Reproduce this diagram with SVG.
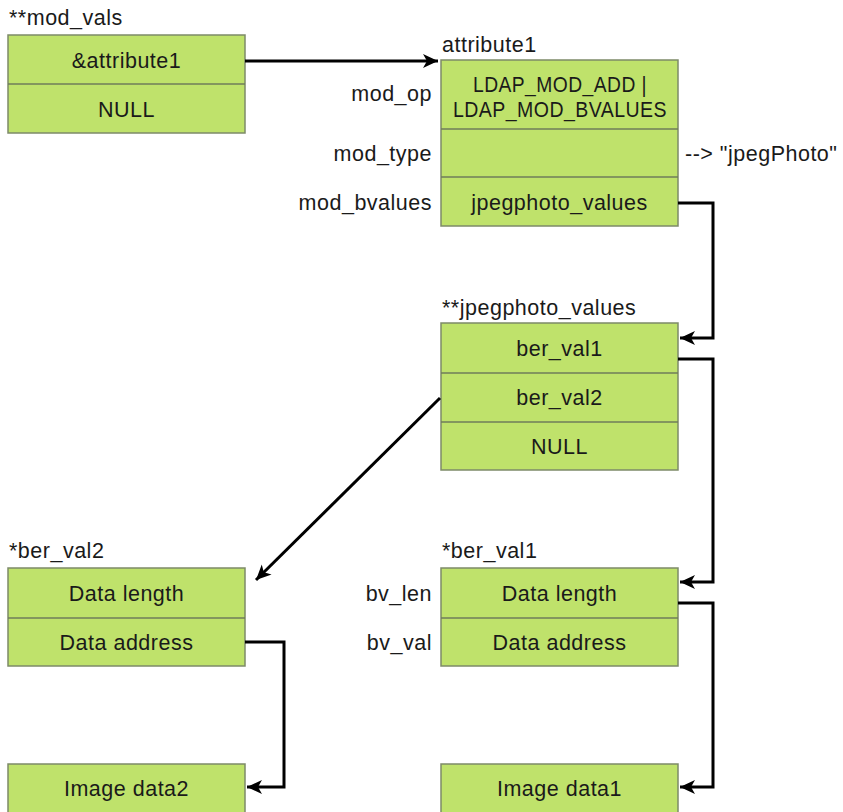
<svg xmlns="http://www.w3.org/2000/svg" width="843" height="812" viewBox="0 0 843 812">
<defs>
<style>
.box{fill:#bfe26b;stroke:#7d8a68;stroke-width:1.5}
.div{stroke:#6f7d5a;stroke-width:1.5}
.t{font-family:"Liberation Sans",Arial,sans-serif;font-size:21.5px;fill:#1a1a1a;letter-spacing:0.5px}
.c{text-anchor:middle}
.r{text-anchor:end}
.conn{fill:none;stroke:#000;stroke-width:3}
</style>
<marker id="ah" viewBox="0 -8 16 16" markerWidth="16" markerHeight="16" refX="15" refY="0" orient="auto" markerUnits="userSpaceOnUse">
<path d="M0,-7 L15,0 L0,7 L4,0 z" fill="#000"/>
</marker>
</defs>
<rect width="843" height="812" fill="#fff"/>

<g id="mod_vals">
<text class="t" x="9" y="25">**mod_vals</text>
<rect class="box" x="8" y="35" width="237" height="98"/>
<line class="div" x1="8" y1="84" x2="245" y2="84"/>
<text class="t c" x="126.5" y="68">&amp;attribute1</text>
<text class="t c" x="126.5" y="117">NULL</text>
</g>

<g id="attribute1">
<text class="t" x="442" y="52">attribute1</text>
<rect class="box" x="441" y="60" width="237" height="166"/>
<line class="div" x1="441" y1="129" x2="678" y2="129"/>
<line class="div" x1="441" y1="177" x2="678" y2="177"/>
<text class="t" x="473" y="92" textLength="174" lengthAdjust="spacingAndGlyphs">LDAP_MOD_ADD |</text>
<text class="t" x="453" y="117" textLength="214" lengthAdjust="spacingAndGlyphs">LDAP_MOD_BVALUES</text>
<text class="t c" x="559.5" y="210">jpegphoto_values</text>
<text class="t r" x="432" y="101">mod_op</text>
<text class="t r" x="432" y="161">mod_type</text>
<text class="t r" x="432" y="210">mod_bvalues</text>
<text class="t" x="685" y="161">--&gt; "jpegPhoto"</text>
</g>

<g id="jpegphoto_values">
<text class="t" x="442" y="315">**jpegphoto_values</text>
<rect class="box" x="441" y="323" width="237" height="147"/>
<line class="div" x1="441" y1="373" x2="678" y2="373"/>
<line class="div" x1="441" y1="422" x2="678" y2="422"/>
<text class="t c" x="559.5" y="356">ber_val1</text>
<text class="t c" x="559.5" y="405">ber_val2</text>
<text class="t c" x="559.5" y="454">NULL</text>
</g>

<g id="ber_val2">
<text class="t" x="9" y="558">*ber_val2</text>
<rect class="box" x="8" y="568" width="237" height="98"/>
<line class="div" x1="8" y1="618" x2="245" y2="618"/>
<text class="t c" x="126.5" y="601">Data length</text>
<text class="t c" x="126.5" y="650">Data address</text>
</g>

<g id="ber_val1">
<text class="t" x="442" y="558">*ber_val1</text>
<rect class="box" x="441" y="568" width="237" height="98"/>
<line class="div" x1="441" y1="618" x2="678" y2="618"/>
<text class="t c" x="559.5" y="601">Data length</text>
<text class="t c" x="559.5" y="650">Data address</text>
<text class="t r" x="432" y="601">bv_len</text>
<text class="t r" x="432" y="650">bv_val</text>
</g>

<g id="image_data2">
<rect class="box" x="8" y="764" width="237" height="60"/>
<text class="t c" x="126.5" y="796">Image data2</text>
</g>

<g id="image_data1">
<rect class="box" x="441" y="764" width="237" height="60"/>
<text class="t c" x="559.5" y="796">Image data1</text>
</g>

<g id="connectors">
<path class="conn" d="M245,61 H438" marker-end="url(#ah)"/>
<path class="conn" d="M678,203 H713 V338 H680" marker-end="url(#ah)"/>
<path class="conn" d="M678,359 H713 V582 H680" marker-end="url(#ah)"/>
<path class="conn" d="M678,603 H713 V787 H680" marker-end="url(#ah)"/>
<path class="conn" d="M245,642 H284 V787 H247" marker-end="url(#ah)"/>
<path class="conn" d="M440,398 L256,580" marker-end="url(#ah)"/>
</g>
</svg>
